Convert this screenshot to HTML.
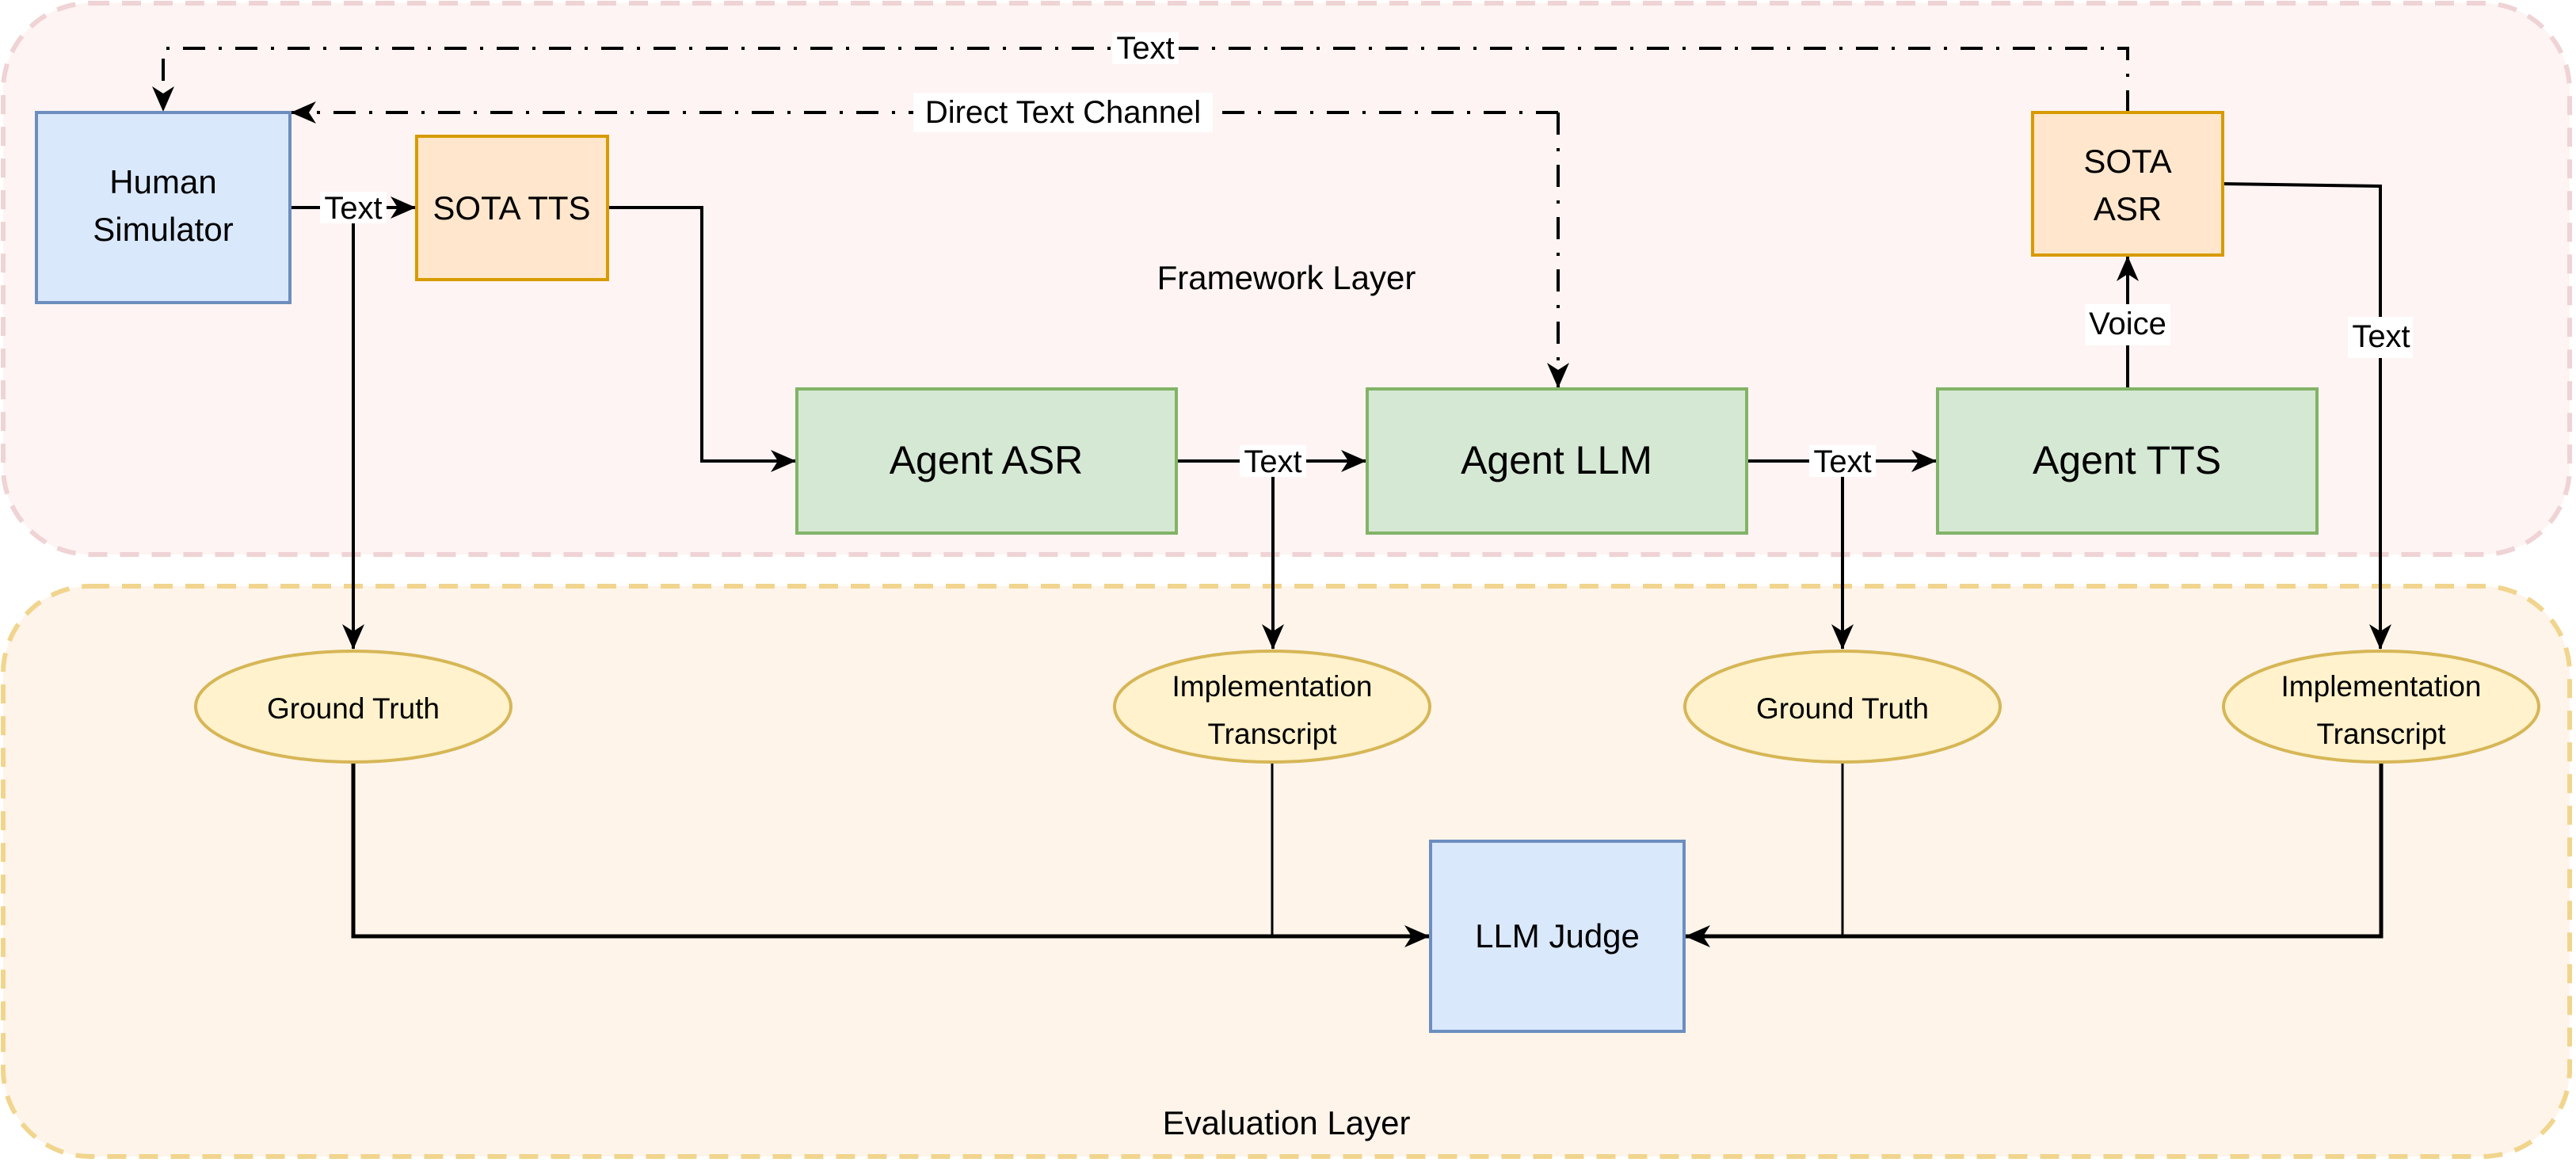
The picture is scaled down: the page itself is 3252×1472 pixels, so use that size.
<!DOCTYPE html>
<html><head><meta charset="utf-8"><style>
html,body{margin:0;padding:0;background:#fff;}
svg{display:block;}
text{font-family:"Liberation Sans",Arial,sans-serif;fill:#000;}
</style></head><body>
<svg width="3252" height="1472" viewBox="0 0 3252 1472" xmlns="http://www.w3.org/2000/svg">
<defs>
<marker id="a" viewBox="0 0 32 28" refX="31" refY="14" markerWidth="32" markerHeight="28" markerUnits="userSpaceOnUse" orient="auto">
<path d="M0,0 L32,14 L0,28 L9,14 Z" fill="#000"/>
</marker>
</defs>
<rect x="4" y="4" width="3240" height="696" rx="110" fill="#FDF4F3" stroke="#EFD3D5" stroke-width="6" stroke-dasharray="24 16"/>
<rect x="4" y="740" width="3240" height="720" rx="110" fill="#FEF4EA" stroke="#F1D58E" stroke-width="6" stroke-dasharray="24 16"/>
<text x="1624" y="365" font-size="42" text-anchor="middle">Framework Layer</text>
<text x="1624" y="1432" font-size="42" text-anchor="middle">Evaluation Layer</text>

<g fill="none" stroke="#000" stroke-width="4">
<path d="M2686,142 V61 H206 V140" stroke-dasharray="28 17 4 17" marker-end="url(#a)"/>
<path d="M1967,142 H368" stroke-dasharray="28 17 4 17" marker-end="url(#a)"/>
<path d="M1967,142 V489" stroke-dasharray="28 17 4 17" marker-end="url(#a)"/>
<path d="M366,262 H524" marker-end="url(#a)"/>
<path d="M767,262 H886 V582 H1004" marker-end="url(#a)"/>
<path d="M1485,582 H1724" marker-end="url(#a)"/>
<path d="M2205,582 H2444" marker-end="url(#a)"/>
<path d="M2686,491 V324" marker-end="url(#a)"/>
<path d="M2806,232 L3005,235 V819" marker-end="url(#a)"/>
<path d="M446,262 V819" marker-end="url(#a)"/>
<path d="M1607,582 V819" marker-end="url(#a)"/>
<path d="M2326,582 V819" marker-end="url(#a)"/>
<path d="M446,962 V1182 H1804" stroke-width="5" marker-end="url(#a)"/>
<path d="M1606,962 V1182" stroke-width="3"/>
<path d="M3006,962 V1182 H2128" stroke-width="5" marker-end="url(#a)"/>
<path d="M2326,962 V1182" stroke-width="3"/>
</g>

<rect x="46" y="142" width="320" height="240" fill="#DAE8FC" stroke="#6C8EBF" stroke-width="4"/>
<text x="206" y="244" font-size="42" text-anchor="middle">Human</text>
<text x="206" y="304" font-size="42" text-anchor="middle">Simulator</text>
<rect x="526" y="172" width="241" height="181" fill="#FFE6CC" stroke="#D79B00" stroke-width="4"/>
<text x="646" y="277" font-size="42" text-anchor="middle">SOTA TTS</text>
<rect x="2566" y="142" width="240" height="180" fill="#FFE6CC" stroke="#D79B00" stroke-width="4"/>
<text x="2686" y="218" font-size="42" text-anchor="middle">SOTA</text>
<text x="2686" y="278" font-size="42" text-anchor="middle">ASR</text>
<rect x="1006" y="491" width="479" height="182" fill="#D5E8D4" stroke="#82B366" stroke-width="4"/>
<text x="1245" y="598" font-size="50" text-anchor="middle">Agent ASR</text>
<rect x="1726" y="491" width="479" height="182" fill="#D5E8D4" stroke="#82B366" stroke-width="4"/>
<text x="1965" y="598" font-size="50" text-anchor="middle">Agent LLM</text>
<rect x="2446" y="491" width="479" height="182" fill="#D5E8D4" stroke="#82B366" stroke-width="4"/>
<text x="2685" y="598" font-size="50" text-anchor="middle">Agent TTS</text>
<rect x="1806" y="1062" width="320" height="240" fill="#DAE8FC" stroke="#6C8EBF" stroke-width="4"/>
<text x="1966" y="1196" font-size="42" text-anchor="middle">LLM Judge</text>

<g fill="#FFF2CC" stroke="#D6B656" stroke-width="4">
<ellipse cx="446" cy="892" rx="199" ry="70"/>
<ellipse cx="1606" cy="892" rx="199" ry="70"/>
<ellipse cx="2326" cy="892" rx="199" ry="70"/>
<ellipse cx="3006" cy="892" rx="199" ry="70"/>
</g>
<g font-size="37" text-anchor="middle">
<text x="446" y="907">Ground Truth</text>
<text x="2326" y="907">Ground Truth</text>
<text x="1606" y="879">Implementation</text>
<text x="1606" y="939">Transcript</text>
<text x="3006" y="879">Implementation</text>
<text x="3006" y="939">Transcript</text>
</g>

<g font-size="40" text-anchor="middle">
<rect x="1404" y="41" width="84" height="40" fill="#fff"/><text x="1446" y="74">Text</text>
<rect x="1153" y="117" width="378" height="50" fill="#fff"/><text x="1342" y="155">Direct Text Channel</text>
<rect x="404" y="242" width="84" height="40" fill="#fff"/><text x="446" y="276">Text</text>
<rect x="1565" y="562" width="84" height="40" fill="#fff"/><text x="1607" y="596">Text</text>
<rect x="2284" y="562" width="84" height="40" fill="#fff"/><text x="2326" y="596">Text</text>
<rect x="2632" y="384" width="108" height="52" fill="#fff"/><text x="2686" y="422">Voice</text>
<rect x="2964" y="400" width="82" height="52" fill="#fff"/><text x="3006" y="438">Text</text>
</g>
</svg>
</body></html>
